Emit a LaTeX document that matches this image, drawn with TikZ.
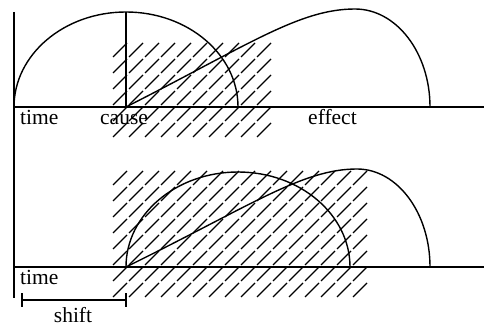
\documentclass[tikz,border=0pt]{standalone}
\usepackage{fontspec}
\setmainfont{Liberation Serif}
\usetikzlibrary{calc}

\begin{document}
\begin{tikzpicture}[x=1pt,y=1pt, every node/.style={font=\fontsize{21.5}{24}\selectfont,inner sep=0pt}]
\tikzset{axis/.style={line width=1.8pt},
  curve/.style={line width=1.4pt},
  hatch/.style={line width=1.1pt},
  lbl/.style={anchor=base west}}
\useasboundingbox (0,0) rectangle (484,329);

% hatched windows
\foreach \i in {0,...,9}
  \foreach \j in {0,...,5}
    \draw[hatch] ({113+16*\i},{192+16*\j}) -- ++(14,14);
\foreach \i in {0,...,15}
  \foreach \j in {0,...,7}
    \draw[hatch] ({113+16*\i},{32+16*\j}) -- ++(14,14);

% axes
\coordinate (top0) at (14,222);
\coordinate (bot0) at (14,62);
\coordinate (cause0) at (126,222);
\coordinate (cause1) at (126,62);
\draw[axis] (14,317) -- (14,31);
\draw[axis] (top0) -- (484,222);
\draw[axis] (bot0) -- (484,62);

% upper: cause and effect
\draw[curve] (top0) arc[start angle=180,end angle=0,x radius=112,y radius=95];
\draw[curve] (cause0) -- (126,317);
\draw[curve] (cause0) .. controls (250,285) and (300,320) .. (355,320)
  arc[start angle=90,end angle=0,x radius=75,y radius=98];

% lower: shifted cause
\draw[curve] (cause1) arc[start angle=180,end angle=0,x radius=112,y radius=95];
\draw[curve] (cause1) .. controls (252,124) and (303,160) .. (357,160)
  arc[start angle=90,end angle=0,x radius=73,y radius=98];

% labels
\node[lbl] (time1) at (20,204) {time};
\node[lbl] (cause) at (100,204) {cause};
\node[lbl] (effect) at (308,204) {effect};
\node[lbl] (time2) at (20,44) {time};

% shift bar
\coordinate (s0) at (22,29);
\coordinate (s1) at (126,29);
\draw[curve] (s0) -- (s1);
\draw[curve] ($(s0)+(0,-7)$) -- ($(s0)+(0,7)$);
\draw[curve] ($(s1)+(0,-7)$) -- ($(s1)+(0,7)$);
\node[anchor=base] (shift) at (73,6) {shift};
\end{tikzpicture}
\end{document}
